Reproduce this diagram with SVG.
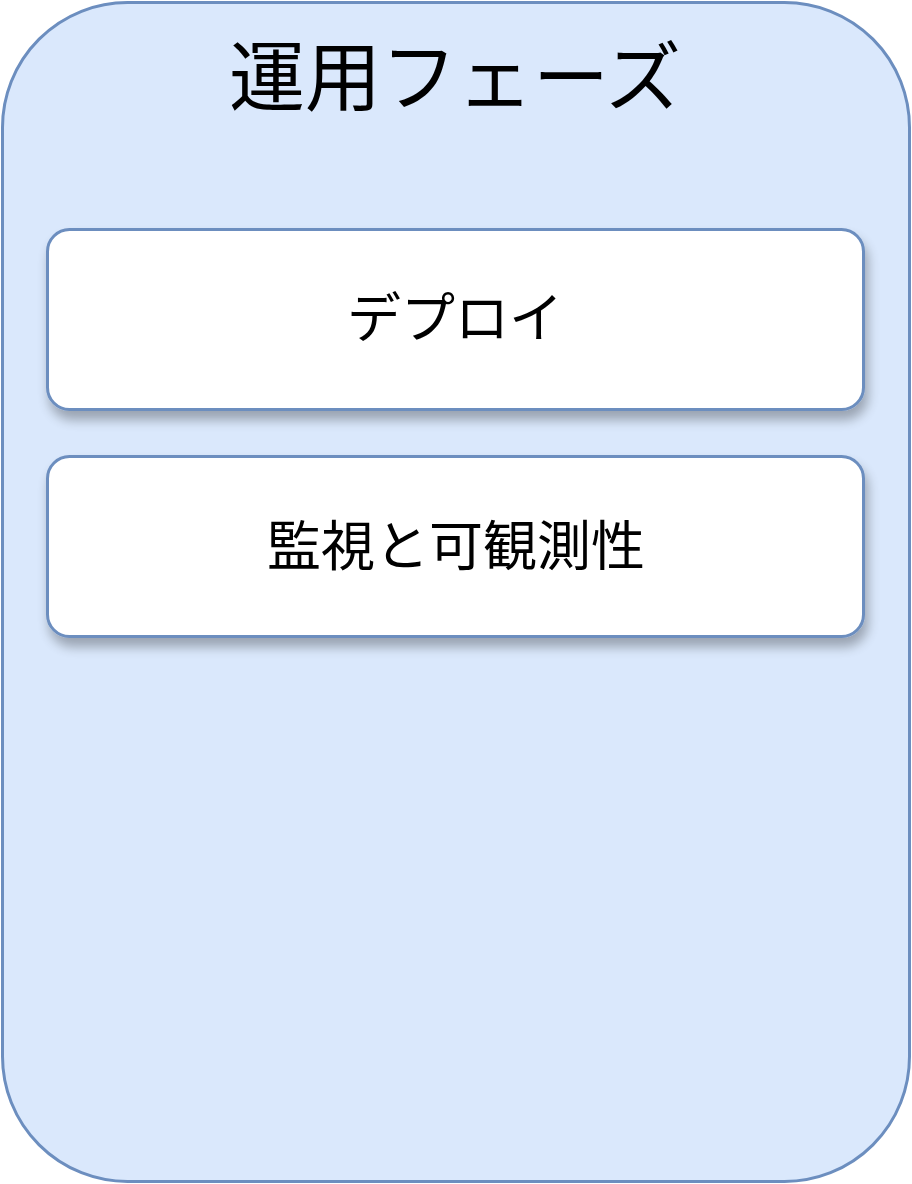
<svg xmlns="http://www.w3.org/2000/svg" width="912" height="1184" viewBox="0 0 912 1184">
<defs>
<filter id="sh" x="-10%" y="-20%" width="120%" height="160%">
<feGaussianBlur in="SourceAlpha" stdDeviation="6"/>
<feOffset dx="3" dy="9" result="b"/>
<feComponentTransfer><feFuncA type="linear" slope="0.3"/></feComponentTransfer>
<feMerge><feMergeNode/><feMergeNode in="SourceGraphic"/></feMerge>
</filter>
</defs>
<style>
.box{fill:#ffffff;stroke:#6c8ebf;stroke-width:3}
.lbl{font-family:"Noto Sans CJK JP",sans-serif;font-size:54px;fill:#000;text-anchor:middle}
</style>
<g id="container">
<rect x="2.5" y="2.5" width="907" height="1179" rx="125" ry="125" fill="#dae8fc" stroke="#6c8ebf" stroke-width="3"/>
<text x="455" y="105" font-family="'Noto Sans CJK JP',sans-serif" font-size="76" text-anchor="middle" fill="#000">運用フェーズ</text>
</g>
<g id="deploy" filter="url(#sh)">
<rect class="box" x="47.5" y="229.5" width="816" height="180" rx="22" ry="22"/>
<text class="lbl" x="455" y="338">デプロイ</text>
</g>
<g id="monitoring" filter="url(#sh)">
<rect class="box" x="47.5" y="456.5" width="816" height="180" rx="22" ry="22"/>
<text class="lbl" x="456" y="566">監視と可観測性</text>
</g>
<g id="connectors"/>
</svg>
